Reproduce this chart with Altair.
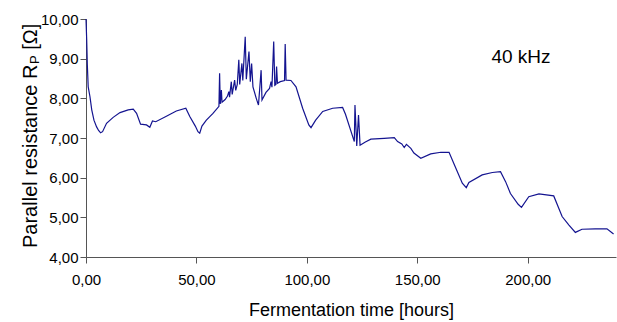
import altair as alt
import pandas as pd

# Fermentation time [hours]
hours = [
    0.0, 0.3, 0.6, 1.0, 1.8, 2.6, 3.6, 4.8, 5.7, 6.6, 7.5, 9.3, 12.3, 15.4, 19.1, 21.4,
    22.9, 24.7, 27.4, 28.9, 30.1, 31.6, 36.4, 40.9, 45.2, 47.0, 49.5, 50.7, 51.5, 52.5,
    54.5, 57.5, 60.2, 60.5, 60.8, 61.3, 61.6, 63.0, 64.0, 64.7, 65.0, 65.8, 66.2,
    67.3, 67.8, 68.5, 69.2, 69.6, 70.6, 71.0, 72.1, 72.6, 73.8, 74.4, 75.0, 75.6,
    77.1, 78.1, 79.3, 79.7, 81.5, 83.1, 83.8, 84.2, 85.0, 85.5, 86.0, 86.3, 86.7,
    88.0, 89.9, 90.2, 90.6, 92.8, 95.1, 98.1, 100.9, 101.9, 104.0, 107.2, 111.7,
    116.2, 117.5, 121.5, 121.8, 122.6, 123.4, 124.1, 126.5, 129.0, 135.0, 139.6,
    141.1, 143.0, 144.1, 145.1, 147.1, 148.5, 151.6, 156.1, 160.7, 164.4, 167.0,
    170.4, 172.2, 173.4, 179.4, 184.0, 187.7, 190.0, 192.2, 195.7, 197.2, 200.5,
    205.1, 211.8, 215.6, 218.6, 221.6, 224.6, 230.6, 235.9, 238.9,
]
# Parallel resistance Rp [Ohm]
resistance = [
    10.00, 9.50, 8.84, 8.29, 8.04, 7.71, 7.45, 7.28, 7.19, 7.13, 7.16, 7.37, 7.52, 7.64, 7.71, 7.73,
    7.62, 7.35, 7.33, 7.27, 7.43, 7.41, 7.55, 7.68, 7.75, 7.54, 7.30, 7.16, 7.12, 7.30,
    7.45, 7.62, 7.80, 8.63, 7.86, 8.21, 7.90, 7.97, 8.05, 8.17, 8.03, 8.42, 8.10,
    8.46, 8.20, 8.35, 8.97, 8.35, 8.88, 8.45, 9.55, 8.48, 9.18, 8.42, 8.88, 8.29,
    8.00, 7.83, 8.71, 7.96, 8.15, 8.25, 8.42, 8.28, 9.43, 8.33, 8.35, 8.80, 8.38,
    8.42, 8.45, 9.37, 8.46, 8.45, 8.29, 7.75, 7.33, 7.26, 7.45, 7.67, 7.75,
    7.77, 7.60, 6.91, 7.83, 6.80, 7.58, 6.82, 6.90, 6.97, 6.99, 7.01,
    6.91, 6.85, 6.76, 6.84, 6.74, 6.62, 6.49, 6.60, 6.64, 6.64, 6.30,
    5.86, 5.75, 5.88, 6.07, 6.13, 6.15, 5.90, 5.60, 5.33, 5.25, 5.52,
    5.59, 5.54, 5.02, 4.81, 4.62, 4.70, 4.71, 4.71, 4.58,
]
x_ticks = [0, 50, 100, 150, 200]
y_ticks = [4, 5, 6, 7, 8, 9, 10]
x_title = "Fermentation time [hours]"
y_title_main = "Parallel resistance R"
y_title_sub = "P"
y_title_unit = "[\u03a9]"
annotation = "40 kHz"

df = pd.DataFrame({"hours": hours, "rp": resistance, "i": list(range(len(hours)))})

FONT = "Liberation Sans"
LINE = "#141490"
AX = "#555555"
comma_fmt = "replace(format(datum.value, '.2f'), '.', ',')"

line = alt.Chart(df).mark_line(color=LINE, strokeWidth=1.2).encode(
    x=alt.X(
        "hours:Q",
        scale=alt.Scale(domain=[0, 240], nice=False, zero=False),
        axis=alt.Axis(
            values=x_ticks, labelExpr=comma_fmt, title=x_title, grid=False,
            tickSize=6, labelFontSize=15, titleFontSize=18, labelFont=FONT,
            titleFont=FONT, titleFontWeight="normal", labelColor="#000000",
            titleColor="#000000", domainColor=AX, tickColor=AX, labelFlush=False,
            labelPadding=9, titlePadding=14,
        ),
    ),
    y=alt.Y(
        "rp:Q",
        scale=alt.Scale(domain=[4, 10], nice=False, zero=False),
        axis=alt.Axis(
            values=y_ticks, labelExpr=comma_fmt, title=None, grid=False,
            tickSize=6, labelFontSize=15, labelFont=FONT, labelColor="#000000",
            domainColor=AX, tickColor=AX, labelPadding=2,
        ),
    ),
    order=alt.Order("i:Q"),
)

def label(txt, size, x, y, align="left", angle=0, baseline="alphabetic"):
    return alt.Chart(pd.DataFrame({"t": [txt]})).mark_text(
        font=FONT, fontSize=size, color="#000000", align=align, angle=angle,
        baseline=baseline,
    ).encode(x=alt.value(x), y=alt.value(y), text="t:N")

t_main = label(y_title_main, 20, -49, 229, angle=270)
t_sub = label(y_title_sub, 13, -47, 45, angle=270)
t_unit = label(y_title_unit, 20, -49, 30.7, angle=270)
t_ann = label(annotation, 19, 435, 38, align="center", baseline="middle")

chart = alt.layer(line, t_main, t_sub, t_unit, t_ann).properties(
    width=530,
    height=238,
    padding={"left": 86, "top": 19, "right": 1, "bottom": 65},
    autosize=alt.AutoSizeParams(type="none"),
    background="#ffffff",
).configure_view(strokeWidth=0)

chart.save("out.html", embed_options={"renderer": "svg", "actions": False})
